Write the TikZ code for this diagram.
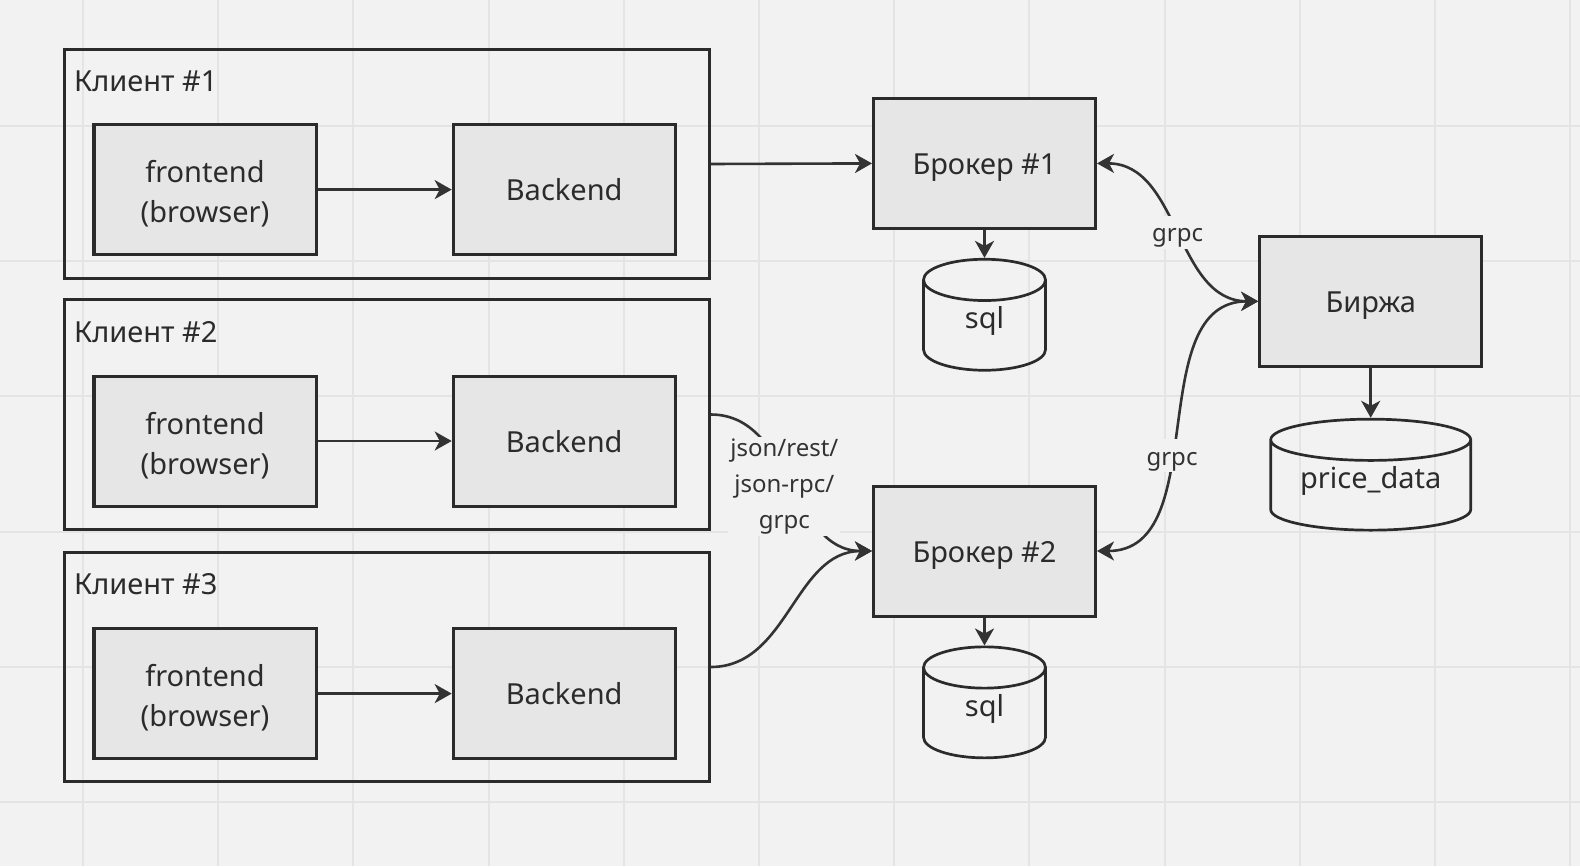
\documentclass[tikz,border=0pt]{standalone}
\usepackage{fontspec}
\setmainfont{Noto Sans}
\usetikzlibrary{arrows.meta,shapes.geometric,positioning}

\definecolor{bgGray}{HTML}{F2F2F2}
\definecolor{gridGray}{HTML}{E4E4E4}
\definecolor{boxGray}{HTML}{E6E6E6}
\definecolor{lineDark}{HTML}{2B2B2B}
\definecolor{arrowDark}{HTML}{333333}

\tikzstyle{frameNode} = [rectangle, minimum width=644.7bp, minimum height=229.5bp, draw=lineDark, line width=3bp]
\tikzstyle{titleNode} = [anchor=base west, inner sep=0pt, text=lineDark, font=\fontsize{29bp}{40bp}\selectfont]
\tikzstyle{capNode} = [rectangle, minimum width=222bp, minimum height=130bp, text centered, align=center, draw=lineDark, fill=boxGray, line width=3bp, text=lineDark, text height=31bp, text depth=8.5bp, font=\fontsize{29bp}{40bp}\selectfont]
\tikzstyle{dbNode} = [cylinder, shape border rotate=90, aspect=0.9, minimum width=122bp, minimum height=111bp, draw=lineDark, line width=2.7bp, text=lineDark, text height=8bp, text depth=8.5bp, font=\fontsize{29bp}{40bp}\selectfont]
\tikzstyle{arrow} = [line width=2.6bp, draw=arrowDark, -{Stealth[length=17bp,width=19bp,inset=5bp]}]
\tikzstyle{biArrow} = [line width=2.6bp, draw=arrowDark, {Stealth[length=17bp,width=19bp,inset=5bp]}-{Stealth[length=17bp,width=19bp,inset=5bp]}]
\tikzstyle{lineLabel} = [fill=bgGray, inner sep=2bp, align=center, text=arrowDark, font=\fontsize{24bp}{36bp}\selectfont]

\begin{document}
\begin{tikzpicture}[x=1bp, y=-1bp, node distance=359.2bp]
    \fill[bgGray] (0,0) rectangle (1580,866);
    \useasboundingbox (0,0) rectangle (1580,866);
    \begin{scope}[shift={(83,126)}]
      \draw[gridGray, line width=2bp, step=135.2bp] (-83,-126) grid (1497,740);
    \end{scope}

    \node (client1)[frameNode] at (386.85,164) {};
    \node (client2)[frameNode] at (386.85,414.5) {};
    \node (client3)[frameNode] at (386.85,667) {};
    \node (title1)[titleNode] at (74,91.7) {Клиент \#1};
    \node (title2)[titleNode] at (74,342.3) {Клиент \#2};
    \node (title3)[titleNode] at (74,594.7) {Клиент \#3};

    \node (fe1)[capNode, text height=75bp] at (205,189.6) {frontend\\(browser)};
    \node (be1)[capNode, right of=fe1] {Backend};
    \node (fe2)[capNode, text height=75bp] at (205,441) {frontend\\(browser)};
    \node (be2)[capNode, right of=fe2] {Backend};
    \node (fe3)[capNode, text height=75bp] at (205,693.6) {frontend\\(browser)};
    \node (be3)[capNode, right of=fe3] {Backend};

    \node (broker1)[capNode] at (984.5,163.4) {Брокер \#1};
    \node (broker2)[capNode] at (984.5,551) {Брокер \#2};
    \node (birzha)[capNode] at (1370.7,301.3) {Биржа};

    \node (sql1)[dbNode, below=28bp of broker1] {sql};
    \node (sql2)[dbNode, below=28bp of broker2] {sql};
    \node (price)[dbNode, minimum width=200bp, below=50bp of birzha] {\makebox[39.2bp]{price\_data}};

    \draw [arrow] (fe1) -- (be1);
    \draw [arrow] (fe2) -- (be2);
    \draw [arrow] (fe3) -- (be3);

    \draw [arrow] (client1.east) -- (broker1.west);
    \draw [arrow] (client2.east) to[out=0,in=180] node[lineLabel, xshift=-7bp, yshift=-3.5bp]{json/rest/\\json-rpc/\\grpc} (broker2.west);
    \draw [arrow] (client3.east) to[out=0,in=180] (broker2.west);

    \draw [biArrow] (broker1.east) to[out=0,in=180] node[lineLabel, text height=24bp, text depth=5bp]{grpc} (birzha.west);
    \draw [biArrow] (broker2.east) to[out=0,in=180] node[lineLabel, pos=0.42, text height=24bp, text depth=5bp]{grpc} (birzha.west);

    \draw [arrow] (broker1) -- (sql1);
    \draw [arrow] (broker2) -- (sql2);
    \draw [arrow] (birzha) -- (price);
\end{tikzpicture}
\end{document}
